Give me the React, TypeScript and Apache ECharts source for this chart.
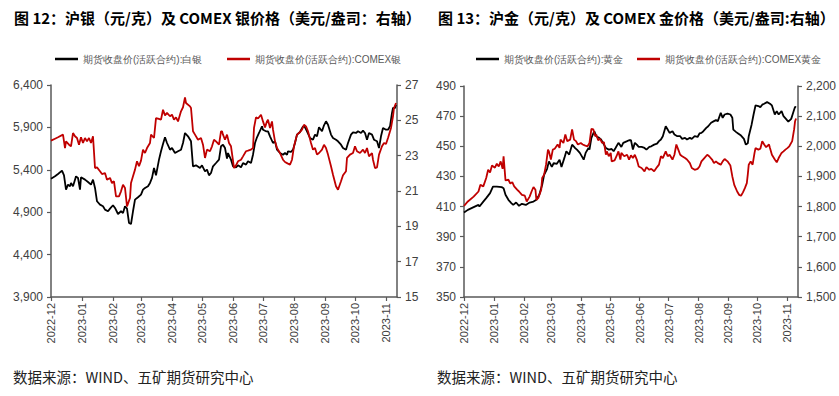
import React, { useEffect, useRef } from "react";
import * as echarts from "echarts";

// ---------- shared axis data ----------
const xTickDates = [
  "2022-12-20", "2023-01-20", "2023-02-20", "2023-03-20", "2023-04-20", "2023-05-20",
  "2023-06-20", "2023-07-20", "2023-08-20", "2023-09-20", "2023-10-20", "2023-11-20",
];
const xTickLabels = [
  "2022-12", "2023-01", "2023-02", "2023-03", "2023-04", "2023-05",
  "2023-06", "2023-07", "2023-08", "2023-09", "2023-10", "2023-11",
];
const xMin = "2022-12-20";
const xMax = "2023-12-01";

const silverLeftTicks = [3900, 4400, 4900, 5400, 5900, 6400];
const silverRightTicks = [15, 17, 19, 21, 23, 25, 27];
const goldLeftTicks = [350, 370, 390, 410, 430, 450, 470, 490];
const goldRightTicks = [1500, 1600, 1700, 1800, 1900, 2000, 2100, 2200];

// ---------- texts ----------
const titleSilver = "图 12：沪银（元/克）及 COMEX 银价格（美元/盎司：右轴）";
const titleGold = "图 13：沪金（元/克）及 COMEX 金价格（美元/盎司:右轴）";
const sourceText = "数据来源：WIND、五矿期货研究中心";
const nameSilverShfe = "期货收盘价(活跃合约):白银";
const nameSilverComex = "期货收盘价(活跃合约):COMEX银";
const nameGoldShfe = "期货收盘价(活跃合约):黄金";
const nameGoldComex = "期货收盘价(活跃合约):COMEX黄金";

// ---------- silver: SHFE (left axis) ----------
const silverShfeDates = [
  "2022-12-20", "2022-12-24", "2022-12-27", "2022-12-31", "2023-01-02", "2023-01-04", "2023-01-06", "2023-01-08",
  "2023-01-09", "2023-01-11", "2023-01-13", "2023-01-14", "2023-01-16", "2023-01-18", "2023-01-19", "2023-01-23",
  "2023-01-26", "2023-01-29", "2023-01-31", "2023-02-02", "2023-02-04", "2023-02-07", "2023-02-10", "2023-02-12",
  "2023-02-15", "2023-02-17", "2023-02-20", "2023-02-22", "2023-02-25", "2023-02-28", "2023-03-02", "2023-03-04",
  "2023-03-06", "2023-03-08", "2023-03-10", "2023-03-12", "2023-03-14", "2023-03-17", "2023-03-20", "2023-03-22",
  "2023-03-24", "2023-03-27", "2023-03-29", "2023-03-31", "2023-04-02", "2023-04-04", "2023-04-07", "2023-04-09",
  "2023-04-11", "2023-04-13", "2023-04-15", "2023-04-18", "2023-04-20", "2023-04-23", "2023-04-26", "2023-04-29",
  "2023-05-01", "2023-05-03", "2023-05-06", "2023-05-09", "2023-05-11", "2023-05-14", "2023-05-18", "2023-05-20",
  "2023-05-23", "2023-05-25", "2023-05-27", "2023-05-29", "2023-05-31", "2023-06-03", "2023-06-06", "2023-06-08",
  "2023-06-10", "2023-06-12", "2023-06-14", "2023-06-15", "2023-06-18", "2023-06-20", "2023-06-23", "2023-06-25",
  "2023-06-28", "2023-06-30", "2023-07-03", "2023-07-05", "2023-07-08", "2023-07-10", "2023-07-12", "2023-07-14",
  "2023-07-16", "2023-07-19", "2023-07-20", "2023-07-23", "2023-07-25", "2023-07-27", "2023-07-30", "2023-08-01",
  "2023-08-03", "2023-08-06", "2023-08-09", "2023-08-11", "2023-08-13", "2023-08-14", "2023-08-17", "2023-08-19",
  "2023-08-21", "2023-08-23", "2023-08-26", "2023-08-29", "2023-08-31", "2023-09-02", "2023-09-05", "2023-09-08",
  "2023-09-10", "2023-09-12", "2023-09-14", "2023-09-17", "2023-09-19", "2023-09-21", "2023-09-23", "2023-09-26",
  "2023-09-28", "2023-10-01", "2023-10-03", "2023-10-06", "2023-10-08", "2023-10-11", "2023-10-13", "2023-10-16",
  "2023-10-18", "2023-10-21", "2023-10-23", "2023-10-26", "2023-10-28", "2023-10-30", "2023-11-01", "2023-11-03",
  "2023-11-06", "2023-11-08", "2023-11-11", "2023-11-13", "2023-11-15", "2023-11-17", "2023-11-20", "2023-11-22",
  "2023-11-24", "2023-11-26", "2023-11-27", "2023-11-29", "2023-11-30",
];
const silverShfeValues = [
  5295, 5323, 5351, 5390, 5335, 5166, 5225, 5206,
  5245, 5206, 5284, 5323, 5304, 5166, 5312, 5284,
  5256, 5225, 5284, 5186, 5029, 4989, 4970, 4930,
  4911, 4942, 4982, 4950, 4879, 4911, 4891, 4970,
  4942, 4773, 4761, 4911, 5048, 5076, 5107, 5166,
  5186, 5206, 5245, 5304, 5421, 5335, 5520, 5618,
  5704, 5783, 5716, 5637, 5657, 5598, 5618, 5637,
  5716, 5834, 5795, 5736, 5441, 5453, 5421, 5453,
  5382, 5402, 5335, 5362, 5441, 5480, 5520, 5677,
  5696, 5657, 5531, 5598, 5520, 5441, 5429, 5453,
  5429, 5480, 5461, 5500, 5480, 5578, 5716, 5783,
  5834, 5913, 5873, 5854, 5854, 5795, 5716, 5736,
  5637, 5598, 5578, 5598, 5578, 5618, 5610, 5637,
  5716, 5815, 5846, 5913, 5901, 5854, 5775, 5755,
  5815, 5795, 5901, 5854, 5925, 5972, 5932, 5815,
  5775, 5755, 5736, 5696, 5657, 5637, 5716, 5815,
  5842, 5834, 5854, 5834, 5862, 5834, 5755, 5834,
  5815, 5755, 5736, 5657, 5795, 5893, 5873, 5873,
  5913, 6070, 6129, 6129, 6168,
];

// ---------- silver: COMEX (right axis) ----------
const silverComexDates = [
  "2022-12-20", "2022-12-24", "2022-12-27", "2023-01-01", "2023-01-03", "2023-01-04", "2023-01-07", "2023-01-09",
  "2023-01-11", "2023-01-13", "2023-01-15", "2023-01-17", "2023-01-19", "2023-01-21", "2023-01-23", "2023-01-25",
  "2023-01-27", "2023-01-29", "2023-01-31", "2023-02-02", "2023-02-04", "2023-02-07", "2023-02-09", "2023-02-12",
  "2023-02-14", "2023-02-17", "2023-02-19", "2023-02-21", "2023-02-23", "2023-02-26", "2023-02-28", "2023-03-02",
  "2023-03-04", "2023-03-06", "2023-03-09", "2023-03-10", "2023-03-12", "2023-03-14", "2023-03-16", "2023-03-18",
  "2023-03-20", "2023-03-22", "2023-03-24", "2023-03-26", "2023-03-29", "2023-03-30", "2023-04-02", "2023-04-04",
  "2023-04-06", "2023-04-09", "2023-04-11", "2023-04-13", "2023-04-15", "2023-04-18", "2023-04-20", "2023-04-22",
  "2023-04-24", "2023-04-26", "2023-04-29", "2023-05-01", "2023-05-03", "2023-05-04", "2023-05-08", "2023-05-09",
  "2023-05-11", "2023-05-13", "2023-05-16", "2023-05-19", "2023-05-21", "2023-05-23", "2023-05-25", "2023-05-28",
  "2023-05-30", "2023-06-01", "2023-06-03", "2023-06-06", "2023-06-08", "2023-06-09", "2023-06-10", "2023-06-12",
  "2023-06-14", "2023-06-16", "2023-06-18", "2023-06-20", "2023-06-21", "2023-06-23", "2023-06-25", "2023-06-28",
  "2023-06-30", "2023-07-03", "2023-07-05", "2023-07-08", "2023-07-10", "2023-07-11", "2023-07-13", "2023-07-15",
  "2023-07-18", "2023-07-20", "2023-07-22", "2023-07-24", "2023-07-25", "2023-07-27", "2023-07-29", "2023-07-30",
  "2023-08-01", "2023-08-03", "2023-08-06", "2023-08-09", "2023-08-11", "2023-08-13", "2023-08-16", "2023-08-18",
  "2023-08-20", "2023-08-23", "2023-08-25", "2023-08-28", "2023-08-30", "2023-09-01", "2023-09-03", "2023-09-06",
  "2023-09-08", "2023-09-10", "2023-09-12", "2023-09-14", "2023-09-17", "2023-09-19", "2023-09-21", "2023-09-23",
  "2023-09-26", "2023-09-28", "2023-10-01", "2023-10-03", "2023-10-06", "2023-10-08", "2023-10-11", "2023-10-12",
  "2023-10-15", "2023-10-18", "2023-10-20", "2023-10-22", "2023-10-25", "2023-10-28", "2023-10-30", "2023-11-01",
  "2023-11-03", "2023-11-06", "2023-11-07", "2023-11-09", "2023-11-11", "2023-11-13", "2023-11-16", "2023-11-18",
  "2023-11-20", "2023-11-22", "2023-11-25", "2023-11-27", "2023-11-28", "2023-11-30",
];
const silverComexValues = [
  23.85, 23.96, 24.04, 24.19, 23.43, 23.81, 23.62, 23.53,
  24.28, 24.1, 24.0, 23.62, 24.04, 23.72, 24.0, 23.81,
  24.0, 23.72, 24.1, 22.3, 22.34, 22.12, 21.96, 22.02,
  21.64, 21.74, 21.45, 21.55, 20.7, 20.7, 20.98, 21.36,
  21.17, 20.13, 20.6, 21.45, 21.83, 22.21, 22.68, 22.4,
  22.72, 23.34, 23.15, 23.43, 23.72, 24.19, 24.0, 25.13,
  25.1, 25.04, 25.6, 25.28, 25.42, 25.23, 25.32, 25.04,
  25.17, 24.94, 25.51, 25.74, 26.3, 25.98, 25.79, 25.7,
  24.38, 24.19, 23.9, 24.0, 23.62, 22.87, 23.34, 23.25,
  23.53, 23.9, 23.81, 23.62, 24.38, 24.38, 24.19, 23.9,
  24.19, 23.72, 23.53, 22.72, 22.3, 22.45, 22.68, 22.77,
  22.96, 23.25, 23.28, 23.34, 23.43, 24.57, 25.17, 25.1,
  25.32, 24.94, 24.6, 24.94, 25.04, 24.57, 24.94, 24.47,
  23.81, 23.43, 23.15, 22.77, 22.64, 22.58, 22.49, 22.77,
  23.53, 24.19, 24.28, 24.47, 24.75, 24.66, 24.38, 23.72,
  23.34, 23.43, 23.06, 23.15, 23.34, 23.62, 23.43, 23.06,
  22.4, 21.92, 21.27, 21.07, 21.55, 21.89, 22.12, 22.87,
  23.06, 23.15, 23.53, 23.25, 23.15, 23.34, 23.15, 23.43,
  22.96, 23.15, 22.77, 22.3, 22.34, 23.06, 23.53, 23.72,
  23.66, 24.0, 24.57, 25.23, 25.7, 25.98,
];

// ---------- gold: SHFE (left axis) ----------
const goldShfeDates = [
  "2022-12-20", "2022-12-24", "2022-12-30", "2023-01-04", "2023-01-05", "2023-01-09", "2023-01-12", "2023-01-16",
  "2023-01-19", "2023-01-23", "2023-01-28", "2023-01-30", "2023-02-01", "2023-02-04", "2023-02-07", "2023-02-09",
  "2023-02-12", "2023-02-15", "2023-02-18", "2023-02-22", "2023-02-26", "2023-03-02", "2023-03-05", "2023-03-08",
  "2023-03-11", "2023-03-13", "2023-03-16", "2023-03-18", "2023-03-21", "2023-03-23", "2023-03-26", "2023-03-29",
  "2023-03-31", "2023-04-03", "2023-04-05", "2023-04-08", "2023-04-11", "2023-04-14", "2023-04-16", "2023-04-19",
  "2023-04-22", "2023-04-23", "2023-04-25", "2023-04-28", "2023-04-29", "2023-05-01", "2023-05-04", "2023-05-06",
  "2023-05-09", "2023-05-11", "2023-05-14", "2023-05-16", "2023-05-19", "2023-05-22", "2023-05-24", "2023-05-26",
  "2023-05-29", "2023-06-01", "2023-06-03", "2023-06-07", "2023-06-09", "2023-06-11", "2023-06-13", "2023-06-15",
  "2023-06-17", "2023-06-19", "2023-06-22", "2023-06-25", "2023-06-27", "2023-06-30", "2023-07-02", "2023-07-05",
  "2023-07-08", "2023-07-10", "2023-07-12", "2023-07-14", "2023-07-17", "2023-07-19", "2023-07-21", "2023-07-24",
  "2023-07-26", "2023-07-29", "2023-08-01", "2023-08-03", "2023-08-06", "2023-08-08", "2023-08-11", "2023-08-13",
  "2023-08-16", "2023-08-19", "2023-08-21", "2023-08-23", "2023-08-25", "2023-08-28", "2023-08-30", "2023-09-02",
  "2023-09-05", "2023-09-07", "2023-09-09", "2023-09-12", "2023-09-14", "2023-09-16", "2023-09-19", "2023-09-22",
  "2023-09-24", "2023-09-25", "2023-09-28", "2023-09-30", "2023-10-03", "2023-10-06", "2023-10-08", "2023-10-10",
  "2023-10-11", "2023-10-14", "2023-10-16", "2023-10-18", "2023-10-21", "2023-10-23", "2023-10-25", "2023-10-27",
  "2023-10-30", "2023-11-02", "2023-11-04", "2023-11-07", "2023-11-09", "2023-11-11", "2023-11-14", "2023-11-16",
  "2023-11-19", "2023-11-21", "2023-11-24", "2023-11-26", "2023-11-28", "2023-11-29",
];
const goldShfeValues = [
  406.0, 407.8, 409.6, 411.1, 410.0, 413.3, 415.6, 418.9,
  423.3, 423.3, 422.9, 422.2, 417.8, 414.5, 412.3, 411.1,
  412.7, 410.5, 411.8, 411.1, 412.7, 413.3, 414.5, 417.8,
  424.5, 431.1, 434.9, 440.0, 436.3, 438.9, 438.3, 441.1,
  436.3, 442.3, 446.7, 444.5, 451.1, 448.9, 447.8, 445.6,
  442.3, 441.1, 445.6, 448.9, 447.8, 455.6, 460.0, 456.7,
  455.6, 454.5, 451.1, 448.9, 447.8, 448.2, 446.7, 448.9,
  452.3, 449.6, 452.3, 453.4, 454.0, 454.0, 447.8, 452.3,
  451.1, 449.6, 449.6, 448.9, 447.8, 449.6, 450.0, 451.1,
  451.8, 453.4, 454.5, 456.7, 463.3, 461.1, 458.9, 460.0,
  457.8, 456.7, 456.7, 454.9, 455.6, 454.5, 455.6, 454.9,
  456.7, 456.2, 458.5, 458.9, 460.0, 462.2, 463.3, 465.6,
  466.7, 467.4, 466.7, 472.2, 468.9, 471.1, 471.7, 471.1,
  468.9, 461.1, 459.4, 458.5, 457.1, 454.9, 451.1, 452.0,
  456.7, 464.5, 471.1, 477.1, 476.7, 476.0, 477.6, 478.2,
  479.3, 478.2, 477.1, 471.1, 473.3, 471.1, 473.3, 470.0,
  467.8, 466.3, 468.2, 472.2, 476.2, 475.8,
];

// ---------- gold: COMEX (right axis) ----------
const goldComexDates = [
  "2022-12-20", "2022-12-24", "2022-12-30", "2023-01-04", "2023-01-06", "2023-01-09", "2023-01-12", "2023-01-14",
  "2023-01-16", "2023-01-18", "2023-01-21", "2023-01-23", "2023-01-25", "2023-01-27", "2023-01-29", "2023-01-30",
  "2023-02-01", "2023-02-04", "2023-02-06", "2023-02-08", "2023-02-10", "2023-02-13", "2023-02-15", "2023-02-18",
  "2023-02-21", "2023-02-23", "2023-02-26", "2023-02-28", "2023-03-02", "2023-03-04", "2023-03-05", "2023-03-07",
  "2023-03-10", "2023-03-11", "2023-03-13", "2023-03-15", "2023-03-17", "2023-03-18", "2023-03-20", "2023-03-22",
  "2023-03-24", "2023-03-27", "2023-03-29", "2023-03-30", "2023-04-02", "2023-04-04", "2023-04-06", "2023-04-09",
  "2023-04-11", "2023-04-13", "2023-04-15", "2023-04-17", "2023-04-20", "2023-04-22", "2023-04-24", "2023-04-27",
  "2023-04-29", "2023-05-01", "2023-05-03", "2023-05-05", "2023-05-06", "2023-05-08", "2023-05-10", "2023-05-12",
  "2023-05-14", "2023-05-16", "2023-05-17", "2023-05-19", "2023-05-21", "2023-05-22", "2023-05-25", "2023-05-27",
  "2023-05-29", "2023-05-31", "2023-06-01", "2023-06-04", "2023-06-07", "2023-06-09", "2023-06-11", "2023-06-13",
  "2023-06-15", "2023-06-17", "2023-06-19", "2023-06-22", "2023-06-25", "2023-06-27", "2023-06-30", "2023-07-02",
  "2023-07-05", "2023-07-08", "2023-07-10", "2023-07-12", "2023-07-14", "2023-07-17", "2023-07-19", "2023-07-21",
  "2023-07-24", "2023-07-26", "2023-07-28", "2023-07-30", "2023-08-01", "2023-08-03", "2023-08-06", "2023-08-08",
  "2023-08-11", "2023-08-13", "2023-08-16", "2023-08-19", "2023-08-21", "2023-08-23", "2023-08-26", "2023-08-29",
  "2023-08-31", "2023-09-03", "2023-09-05", "2023-09-07", "2023-09-09", "2023-09-12", "2023-09-14", "2023-09-16",
  "2023-09-19", "2023-09-22", "2023-09-24", "2023-09-26", "2023-09-29", "2023-10-01", "2023-10-03", "2023-10-05",
  "2023-10-07", "2023-10-09", "2023-10-10", "2023-10-11", "2023-10-13", "2023-10-15", "2023-10-17", "2023-10-18",
  "2023-10-21", "2023-10-23", "2023-10-25", "2023-10-27", "2023-10-29", "2023-11-01", "2023-11-02", "2023-11-04",
  "2023-11-07", "2023-11-09", "2023-11-11", "2023-11-14", "2023-11-16", "2023-11-18", "2023-11-20", "2023-11-22",
  "2023-11-25", "2023-11-27", "2023-11-28", "2023-11-29",
];
const goldComexValues = [
  1802, 1817, 1833, 1850, 1872, 1867, 1895, 1922,
  1913, 1936, 1929, 1942, 1933, 1950, 1925, 1967,
  1887, 1889, 1876, 1881, 1867, 1856, 1850, 1839,
  1836, 1817, 1833, 1850, 1865, 1856, 1822, 1829,
  1856, 1895, 1906, 1939, 1989, 1983, 1956, 1989,
  1992, 2006, 1995, 2022, 2011, 2039, 2017, 2022,
  2056, 2022, 2017, 2006, 2011, 2006, 2003, 2000,
  2011, 2058, 2056, 2033, 2039, 2020, 2025, 2011,
  2014, 1972, 1983, 1967, 1978, 1950, 1953, 1967,
  1983, 1956, 1978, 1967, 1972, 1956, 1970, 1961,
  1972, 1956, 1933, 1928, 1917, 1931, 1922, 1925,
  1917, 1931, 1939, 1967, 1961, 1983, 1967, 1972,
  1956, 1972, 2006, 1989, 1972, 1967, 1961, 1956,
  1944, 1928, 1922, 1925, 1933, 1950, 1961, 1972,
  1967, 1956, 1944, 1950, 1944, 1939, 1950, 1958,
  1950, 1936, 1900, 1872, 1850, 1839, 1836, 1847,
  1861, 1878, 1906, 1939, 1950, 1939, 1978, 1994,
  1989, 1992, 2017, 2006, 1997, 2006, 1994, 1972,
  1956, 1947, 1961, 1978, 1983, 1989, 1994, 2000,
  2017, 2056, 2083, 2092,
];

// ---------- helpers ----------
const toTs = (s: string) => {
  const [y, m, d] = s.split("-").map(Number);
  return Date.UTC(y, m - 1, d);
};
const pairs = (dates: string[], values: number[]) => dates.map((d, i) => [toTs(d), values[i]]);
const tickTs = xTickDates.map(toTs);
const fmtThousands = (v: number) => Math.round(v).toLocaleString("en-US");

const AXIS_COLOR = "#595959";
const LABEL_COLOR = "#404040";
const NARROW = "'Liberation Sans Narrow','Arial Narrow','Liberation Sans',sans-serif";
const BLACK = "#000000";
const RED = "#c00000";

const makeX = (gridIndex: number) => ({
  type: "value",
  gridIndex,
  min: toTs(xMin),
  max: toTs(xMax),
  splitLine: { show: false },
  axisLine: { show: true, onZero: false, lineStyle: { color: AXIS_COLOR, width: 1.5 } },
  axisTick: { show: true, length: 4, customValues: tickTs, lineStyle: { color: AXIS_COLOR, width: 1.2 } },
  axisLabel: {
    customValues: tickTs,
    rotate: 90,
    margin: 6,
    fontSize: 11,
    color: LABEL_COLOR,
    fontFamily: "'Liberation Sans','DejaVu Sans',sans-serif",
    formatter: (v: number) => {
      const i = tickTs.findIndex((t) => Math.abs(t - v) < 43200000);
      return i >= 0 ? xTickLabels[i] : "";
    },
  },
});

const makeY = (gridIndex: number, position: string, ticks: number[], thousands: boolean) => ({
  type: "value",
  gridIndex,
  position,
  min: ticks[0],
  max: ticks[ticks.length - 1],
  splitLine: { show: false },
  axisLine: { show: true, onZero: false, lineStyle: { color: AXIS_COLOR, width: 1.5 } },
  axisTick: { show: true, length: 4, customValues: ticks, lineStyle: { color: AXIS_COLOR, width: 1.2 } },
  axisLabel: {
    customValues: ticks,
    margin: 8,
    fontSize: 12,
    color: LABEL_COLOR,
    fontFamily: NARROW,
    formatter: (v: number) => (thousands ? fmtThousands(v) : String(Math.round(v))),
  },
});

const legendItem = (name: string, left: number) => ({
  data: [name],
  left,
  top: 49,
  icon: "rect",
  itemWidth: 23,
  itemHeight: 2.5,
  itemGap: 0,
  textStyle: { fontSize: 10, color: "#595959", fontFamily: NARROW },
});

const lineSeries = (name: string, xi: number, yi: number, data: number[][], color: string) => ({
  type: "line",
  name,
  xAxisIndex: xi,
  yAxisIndex: yi,
  data,
  symbol: "none",
  showSymbol: false,
  lineStyle: { color, width: 1.8 },
  itemStyle: { color },
  emphasis: { disabled: true },
});

export default function App() {
  const ref = useRef<HTMLDivElement>(null);
  useEffect(() => {
    if (!ref.current) return;
    const chart = echarts.init(ref.current, undefined, { renderer: "svg" });
    const titleStyle = {
      fontSize: 15,
      fontWeight: "bold",
      color: "#000",
      fontFamily: "'Noto Sans CJK SC','Liberation Sans',sans-serif",
    };
    const srcStyle = {
      fontSize: 14.5,
      fontWeight: "normal",
      color: "#222",
      fontFamily: "'Noto Sans CJK SC','Liberation Mono',sans-serif",
    };
    chart.setOption({
      animation: false,
      backgroundColor: "#ffffff",
      title: [
        { text: titleSilver, left: 9, top: 5, textStyle: titleStyle },
        { text: titleGold, left: 433, top: 5, textStyle: titleStyle },
        { text: sourceText, left: 8, top: 364, textStyle: srcStyle },
        { text: sourceText, left: 432, top: 364, textStyle: srcStyle },
      ],
      legend: [
        legendItem(nameSilverShfe, 50),
        legendItem(nameSilverComex, 222),
        legendItem(nameGoldShfe, 471),
        legendItem(nameGoldComex, 632),
      ],
      grid: [
        { left: 51, top: 85, width: 346, height: 212 },
        { left: 464, top: 86, width: 336, height: 211 },
      ],
      xAxis: [makeX(0), makeX(1)],
      yAxis: [
        makeY(0, "left", silverLeftTicks, true),
        makeY(0, "right", silverRightTicks, false),
        makeY(1, "left", goldLeftTicks, false),
        makeY(1, "right", goldRightTicks, true),
      ],
      series: [
        lineSeries(nameSilverShfe, 0, 0, pairs(silverShfeDates, silverShfeValues), BLACK),
        lineSeries(nameSilverComex, 0, 1, pairs(silverComexDates, silverComexValues), RED),
        lineSeries(nameGoldShfe, 1, 2, pairs(goldShfeDates, goldShfeValues), BLACK),
        lineSeries(nameGoldComex, 1, 3, pairs(goldComexDates, goldComexValues), RED),
      ],
    });
    return () => chart.dispose();
  }, []);
  return (
    <div
      ref={ref}
      style={{ position: "absolute", left: 0, top: 0, width: 839, height: 396, background: "#fff" }}
    />
  );
}
